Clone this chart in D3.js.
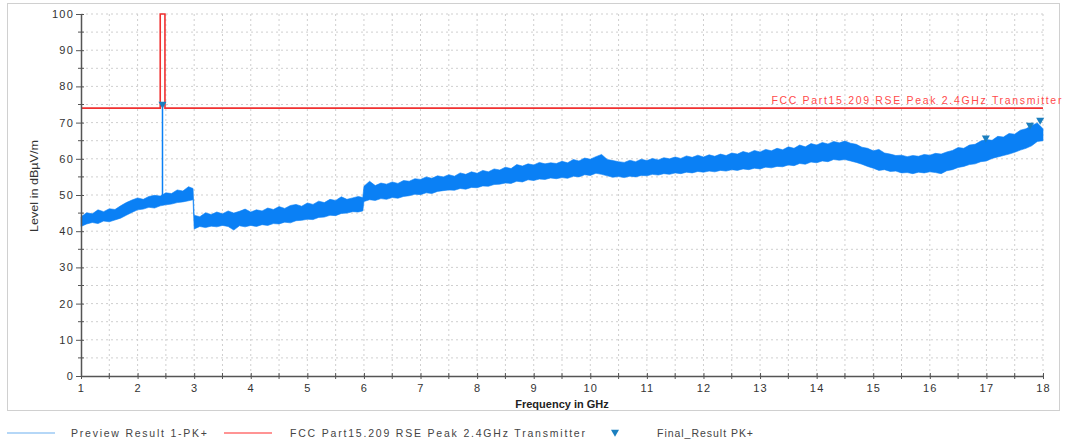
<!DOCTYPE html>
<html>
<head>
<meta charset="utf-8">
<script src="https://cdn.jsdelivr.net/npm/d3@7"></script>
<style>
  body { margin: 0; background: #fff; }
  text { font-family: "Liberation Sans", Arial, sans-serif; }
</style>
</head>
<body>
<div id="chart"></div>
<script>
// trace envelope (GHz, dBuV/m low / high)
const freq = [1.0,1.1,1.2,1.3,1.4,1.5,1.6,1.7,1.8,1.9,2.0,2.1,2.2,2.3,2.4,2.5,2.6,2.7,2.8,2.9,2.98,
  3.0,3.1,3.2,3.3,3.4,3.5,3.6,3.7,3.8,3.9,4.0,4.1,4.2,4.3,4.4,4.5,4.6,4.7,4.8,4.9,
  5.0,5.1,5.2,5.3,5.4,5.5,5.6,5.7,5.8,5.9,5.98,
  6.0,6.1,6.2,6.3,6.4,6.5,6.6,6.7,6.8,6.9,7.0,7.1,7.2,7.3,7.4,7.5,7.6,7.7,7.8,7.9,
  8.0,8.1,8.2,8.3,8.4,8.5,8.6,8.7,8.8,8.9,9.0,9.1,9.2,9.3,9.4,9.5,9.6,9.7,9.8,9.9,
  10.0,10.1,10.2,10.3,10.4,10.5,10.6,10.7,10.8,10.9,11.0,11.1,11.2,11.3,11.4,11.5,11.6,11.7,11.8,11.9,
  12.0,12.1,12.2,12.3,12.4,12.5,12.6,12.7,12.8,12.9,13.0,13.1,13.2,13.3,13.4,13.5,13.6,13.7,13.8,13.9,
  14.0,14.1,14.2,14.3,14.4,14.5,14.6,14.7,14.8,14.9,15.0,15.1,15.2,15.3,15.4,15.5,15.6,15.7,15.8,15.9,
  16.0,16.1,16.2,16.3,16.4,16.5,16.6,16.7,16.8,16.9,17.0,17.1,17.2,17.3,17.4,17.5,17.6,17.7,17.8,17.9,18.0];
const levelLow = [41.3,42.0,42.4,42.1,42.8,42.6,43.1,43.6,44.4,45.2,45.9,46.1,46.6,46.4,47.0,47.3,47.5,47.9,48.1,48.4,48.7,
  40.6,41.3,41.0,41.4,41.2,41.6,41.3,40.3,41.5,41.2,41.6,41.3,41.8,41.6,42.1,42.0,42.5,42.3,42.9,43.0,
  43.3,43.2,43.8,43.9,44.4,44.3,44.9,45.0,45.4,45.3,45.6,
  48.2,48.7,48.5,49.0,48.8,49.3,49.1,49.6,49.8,50.2,50.1,50.6,50.4,51.0,51.2,51.4,51.3,51.8,51.6,52.1,
  52.0,52.5,52.4,52.9,53.0,53.3,53.2,53.8,53.6,54.2,54.0,54.4,54.3,54.7,54.5,54.8,54.6,55.2,55.0,55.6,
  55.4,56.0,55.7,55.3,54.9,55.1,54.8,55.2,55.0,55.4,55.3,55.7,55.5,55.9,55.7,56.1,55.9,56.3,56.1,56.5,
  56.3,56.6,56.4,56.8,56.6,57.0,56.8,57.2,57.0,57.4,57.2,57.7,57.5,57.9,57.8,58.3,58.1,58.7,58.5,59.1,
  58.9,59.4,59.2,59.8,59.6,59.8,59.4,59.0,58.5,57.9,57.4,56.8,57.0,56.5,56.6,56.1,56.2,55.9,56.3,56.1,
  56.4,56.2,55.9,56.7,57.0,57.6,57.9,58.4,58.6,59.2,59.4,60.1,60.5,60.9,61.3,61.8,62.4,62.9,63.6,64.8,65.0];
const levelHigh = [44.0,45.1,44.8,45.9,45.4,46.2,46.0,47.0,47.9,48.6,49.2,48.8,49.6,49.9,49.7,50.6,50.4,51.4,51.1,52.3,51.8,
  44.4,44.0,45.1,44.6,45.3,44.8,45.6,45.0,45.5,46.1,45.3,45.9,45.6,46.4,46.0,46.8,46.3,47.1,47.4,46.9,
  47.8,47.4,48.3,47.9,48.8,48.5,49.5,48.8,49.2,49.6,49.3,
  52.4,53.8,52.6,53.3,53.0,53.6,53.2,54.0,53.8,54.5,54.3,55.0,54.6,55.3,55.0,55.6,55.2,56.1,55.7,56.4,
  56.0,56.8,56.4,57.2,56.9,57.7,57.3,58.4,58.0,58.6,58.3,59.0,58.6,58.9,58.7,59.3,58.9,59.8,59.4,60.2,
  59.9,60.6,61.2,59.8,59.5,59.2,59.0,59.6,59.2,59.9,59.5,60.1,59.7,60.3,60.0,60.5,60.1,60.8,60.4,61.0,
  60.5,61.1,60.7,61.3,60.9,61.6,61.3,62.0,61.6,62.3,61.9,62.6,62.2,62.9,62.5,63.3,62.9,63.8,63.3,64.2,
  63.8,64.5,64.1,64.8,64.4,64.9,64.3,64.0,63.2,62.9,62.2,62.6,61.6,61.3,60.9,61.0,60.6,60.9,60.7,61.2,
  61.0,61.5,61.3,61.9,62.3,63.1,62.9,63.8,64.0,64.9,65.3,65.1,66.2,66.0,67.0,66.8,67.9,68.3,69.2,69.9,68.3];

// carrier spike
const carrierFreq = 2.44, carrierLow = 48, carrierHigh = 75;

// FCC limit line
const limitFreq = [1, 2.4, 2.4, 2.4835, 2.4835, 18];
const limitLevel = [74, 74, 100, 100, 74, 74];
const limitName = "FCC Part15.209 RSE Peak 2.4GHz Transmitter";

// final result markers
const markerFreq = [2.44, 16.99, 17.77, 17.95];
const markerLevel = [75.1, 65.8, 69.3, 70.7];

const xTicks = d3.range(1, 19);
const yTicks = d3.range(0, 101, 10);

const W = 1067, H = 444;
const margin = { top: 14, left: 81, right: 24, bottom: 68 };
const width = W - margin.left - margin.right,
  height = H - margin.top - margin.bottom;

const svg = d3.select("#chart").append("svg")
  .attr("width", W).attr("height", H);

// outer frame
svg.append("rect")
  .attr("x", 7.5).attr("y", 3.5).attr("width", 1052).attr("height", 407)
  .attr("fill", "none").attr("stroke", "#d0d0d0");

const g = svg.append("g").attr("transform", `translate(${margin.left},${margin.top})`);

const x = d3.scaleLinear().domain([1, 18]).range([0, width]);
const y = d3.scaleLinear().domain([0, 100]).range([height, 0]);

// grid
g.append("g").selectAll("line").data(d3.range(1.5, 18.01, 0.5)).join("line")
  .attr("x1", d => x(d)).attr("x2", d => x(d)).attr("y1", 0).attr("y2", height)
  .attr("stroke", "#cfcfcf").attr("stroke-dasharray", "2,3");
g.append("g").selectAll("line").data(d3.range(5, 101, 5)).join("line")
  .attr("x1", 0).attr("x2", width).attr("y1", d => y(d)).attr("y2", d => y(d))
  .attr("stroke", "#cfcfcf").attr("stroke-dasharray", "2,3");

// trace
const trace = freq.map((f, i) => ({ f: f, lo: levelLow[i], hi: levelHigh[i] }));
g.append("path").datum(trace)
  .attr("fill", "#0a80f5")
  .attr("stroke", "#0a80f5").attr("stroke-width", 0.6)
  .attr("d", d3.area().x(d => x(d.f)).y0(d => y(d.lo)).y1(d => y(d.hi)));

g.append("line")
  .attr("x1", x(carrierFreq)).attr("x2", x(carrierFreq))
  .attr("y1", y(carrierLow)).attr("y2", y(carrierHigh))
  .attr("stroke", "#0a80f5").attr("stroke-width", 1.5);

// limit
const limit = limitFreq.map((f, i) => [f, limitLevel[i]]);
g.append("path").datum(limit)
  .attr("fill", "none").attr("stroke", "#f03030").attr("stroke-width", 1.6)
  .attr("d", d3.line().x(d => x(d[0])).y(d => y(d[1])));

g.append("text")
  .attr("x", x(13.2)).attr("y", y(74) - 4)
  .attr("fill", "#ff4a4a").attr("font-size", 10.5)
  .attr("textLength", 290).attr("lengthAdjust", "spacing")
  .text(limitName);

// markers
const tri = d3.symbol().type(d3.symbolTriangle).size(28);
g.append("g").selectAll("path").data(markerFreq).join("path")
  .attr("d", tri)
  .attr("transform", (d, i) => `translate(${x(d)},${y(markerLevel[i])}) rotate(180)`)
  .attr("fill", "#1b7fbf");

// axes
const axisColor = "#555";
const yAxis = g.append("g")
  .call(d3.axisLeft(y).tickValues(yTicks).tickSize(5).tickPadding(2).tickSizeOuter(0));
yAxis.selectAll(".tick line").attr("x2", -5).attr("x1", 3);
g.append("g").selectAll("line").data(d3.range(5, 100, 10)).join("line")
  .attr("x1", -3).attr("x2", 3).attr("y1", d => y(d)).attr("y2", d => y(d))
  .attr("stroke", axisColor);

const xAxis = g.append("g").attr("transform", `translate(0,${height})`)
  .call(d3.axisBottom(x).tickValues(xTicks).tickFormat(d3.format("d")).tickSize(3).tickPadding(5).tickSizeOuter(0));
xAxis.selectAll(".tick line").attr("y1", -3);
g.append("g").selectAll("line").data(d3.range(1.5, 18, 1)).join("line")
  .attr("y1", height - 3).attr("y2", height + 3).attr("x1", d => x(d)).attr("x2", d => x(d))
  .attr("stroke", axisColor);

[yAxis, xAxis].forEach(a => {
  a.select(".domain").attr("stroke", axisColor).attr("stroke-width", 1.5);
  a.selectAll(".tick line").attr("stroke", axisColor);
  a.selectAll(".tick text").attr("fill", "#333").attr("font-size", 11)
    .attr("letter-spacing", 1.2)
    .style("font-family", "'Liberation Sans', Arial, sans-serif");
});

// axis labels
svg.append("text")
  .attr("transform", "translate(38,186) rotate(-90)")
  .attr("text-anchor", "middle").attr("font-size", 11).attr("fill", "#333")
  .attr("textLength", 92).attr("lengthAdjust", "spacingAndGlyphs")
  .style("font-family", "'Liberation Sans Narrow', 'Liberation Sans', sans-serif")
  .text("Level in dBµV/m");

svg.append("text")
  .attr("x", 562).attr("y", 408).attr("text-anchor", "middle")
  .attr("font-size", 11).attr("font-weight", "bold").attr("fill", "#222")
  .text("Frequency in GHz");

// legend
const legend = svg.append("g").attr("transform", "translate(0,433)");
legend.append("line").attr("x1", 7).attr("x2", 55).attr("stroke", "#9ccaf5").attr("stroke-width", 1.5);
legend.append("text").attr("x", 71).attr("y", 4).attr("font-size", 10.5)
  .attr("textLength", 136).attr("lengthAdjust", "spacing")
  .attr("fill", "#444").text("Preview Result 1-PK+");
legend.append("line").attr("x1", 224).attr("x2", 272).attr("stroke", "#ff7070").attr("stroke-width", 1.5);
legend.append("text").attr("x", 290).attr("y", 4).attr("font-size", 10.5)
  .attr("textLength", 295).attr("lengthAdjust", "spacing")
  .attr("fill", "#444").text(limitName);
legend.append("path").attr("d", tri).attr("transform", "translate(615,-1) rotate(180)")
  .attr("fill", "#1b7fbf");
legend.append("text").attr("x", 657).attr("y", 4).attr("font-size", 10.5)
  .attr("textLength", 96).attr("lengthAdjust", "spacing")
  .attr("fill", "#444").text("Final_Result PK+");
</script>
</body>
</html>
